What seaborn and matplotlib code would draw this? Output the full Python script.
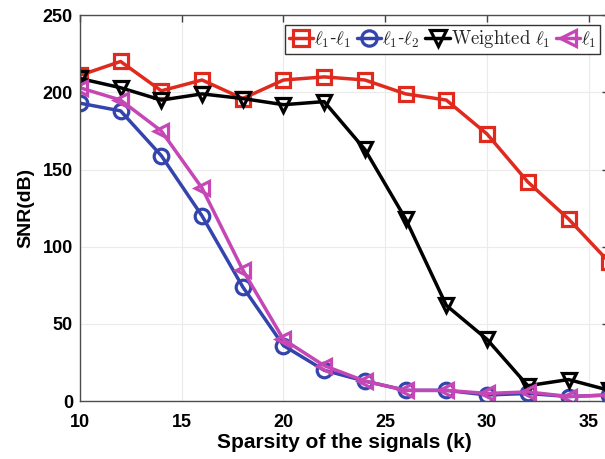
import numpy as np
import pandas as pd
import matplotlib
matplotlib.use("Agg")
import matplotlib.pyplot as plt
import seaborn as sns

# Sparsity levels and reconstruction SNR (dB) for each method
k = [10, 12, 14, 16, 18, 20, 22, 24, 26, 28, 30, 32, 34, 36]
snr_l1_l1 = [211, 220, 201, 208, 196, 208, 210, 208, 199, 195, 173, 142, 118, 90]
snr_l1_l2 = [193, 188, 159, 120, 74, 36, 20, 13, 7, 7, 4, 5, 3, 4]
snr_weighted = [209, 203, 195, 199, 196, 192, 194, 163, 118, 62, 40, 10, 14, 7]
snr_l1 = [203, 195, 175, 138, 85, 40, 23, 13, 7, 7, 5, 6, 3, 4]

labels = [r"$\ell_1$-$\ell_1$", r"$\ell_1$-$\ell_2$",
          r"$\mathrm{Weighted}\ \ell_1$", r"$\ell_1$"]
series = [snr_l1_l1, snr_l1_l2, snr_weighted, snr_l1]
colors = ["#e02a1e", "#3444ad", "#000000", "#c546b5"]
markers = ["s", "o", "v", "<"]

x_ticks = [10, 15, 20, 25, 30, 35]
y_ticks = [0, 50, 100, 150, 200, 250]

sns.set_theme(style="whitegrid")
plt.rcParams["font.family"] = ["Liberation Sans", "DejaVu Sans"]
plt.rcParams["mathtext.fontset"] = "cm"

fig = plt.figure(figsize=(6.05, 4.59), dpi=100)
ax = fig.add_axes([0.132, 0.126, 0.875, 0.841])

for vals, lab, col, mk in zip(series, labels, colors, markers):
    df = pd.DataFrame({"k": k, "snr": vals})
    sns.lineplot(data=df, x="k", y="snr", ax=ax, color=col, lw=2.5,
                 marker=mk, markersize=10.5, markerfacecolor="none",
                 markeredgecolor=col, markeredgewidth=2.3, label=lab)

ax.set_xlim(10, 36)
ax.set_ylim(0, 250)
ax.set_xticks(x_ticks)
ax.set_yticks(y_ticks)
ax.tick_params(axis="both", labelsize=13, direction="in", length=5,
               width=1, colors="#404040", top=True, right=True)
ax.tick_params(axis="x", pad=9)
ax.tick_params(axis="y", pad=5)
for lbl in ax.get_xticklabels() + ax.get_yticklabels():
    lbl.set_fontweight("bold")
    lbl.set_color("black")
ax.set_xlabel("Sparsity of the signals (k)", fontsize=15, fontweight="bold",
              labelpad=2, color="black")
ax.set_ylabel("SNR(dB)", fontsize=14, fontweight="bold", labelpad=6,
              color="black")
ax.grid(True, color="#ebebeb", lw=0.8)
ax.set_facecolor("white")
for sp in ax.spines.values():
    sp.set_color("#4d4d4d")
    sp.set_linewidth(1.0)

leg = ax.legend(loc="upper right", ncol=4, fontsize=13.5, frameon=True,
                fancybox=False, edgecolor="#333333", framealpha=1,
                handlelength=1.3, handletextpad=0.05, columnspacing=0.3,
                borderpad=0.2, borderaxespad=0.3, markerscale=1.05,
                bbox_to_anchor=(0.9935, 0.99))
leg.get_frame().set_linewidth(1.0)

fig.savefig("out.png", dpi=100)
